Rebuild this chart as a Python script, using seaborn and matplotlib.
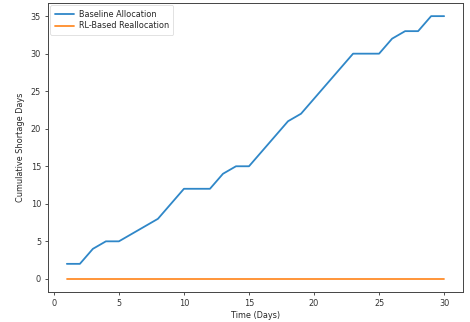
import matplotlib
matplotlib.use("Agg")
import matplotlib.pyplot as plt
import seaborn as sns
import pandas as pd

days = list(range(1, 31))
baseline = [2, 2, 4, 5, 5, 6, 7, 8, 10, 12, 12, 12, 14, 15, 15,
            17, 19, 21, 22, 24, 26, 28, 30, 30, 30, 32, 33, 33, 35, 35]
rl_based = [0] * 30
series_names = ["Baseline Allocation", "RL-Based Reallocation"]

df = pd.DataFrame({
    "Day": days * 2,
    "Value": baseline + rl_based,
    "Series": [series_names[0]] * len(days) + [series_names[1]] * len(days),
})

sns.set_style("ticks")
plt.rcParams["font.family"] = ["DejaVu Sans"]

FS = 5.9
fig = plt.figure(figsize=(4.7, 3.22), dpi=100)
ax = fig.add_axes([48 / 470, 1 - 292 / 322, (463 - 48) / 470, (292 - 3) / 322])

sns.lineplot(data=df, x="Day", y="Value", hue="Series",
             palette=["#2f87c8", "#ff8c2a"], ax=ax, linewidth=1.3)

ax.set_xlabel("Time (Days)", fontsize=FS, labelpad=2.5)
ax.set_ylabel("Cumulative Shortage Days", fontsize=FS, labelpad=4)
ax.set_xticks([0, 5, 10, 15, 20, 25, 30])
ax.set_yticks([0, 5, 10, 15, 20, 25, 30, 35])
ax.tick_params(labelsize=FS, length=2.5, width=0.6, pad=2.5, colors="#333333")
for s in ax.spines.values():
    s.set_linewidth(0.7)
    s.set_color("#444444")
leg = ax.legend(title=None, fontsize=FS, loc="upper left", frameon=True,
                handlelength=2.4, handletextpad=0.6, borderpad=0.5,
                labelspacing=0.35, borderaxespad=0.3)
leg.get_frame().set_linewidth(0.5)

fig.savefig("out.png", dpi=100)
